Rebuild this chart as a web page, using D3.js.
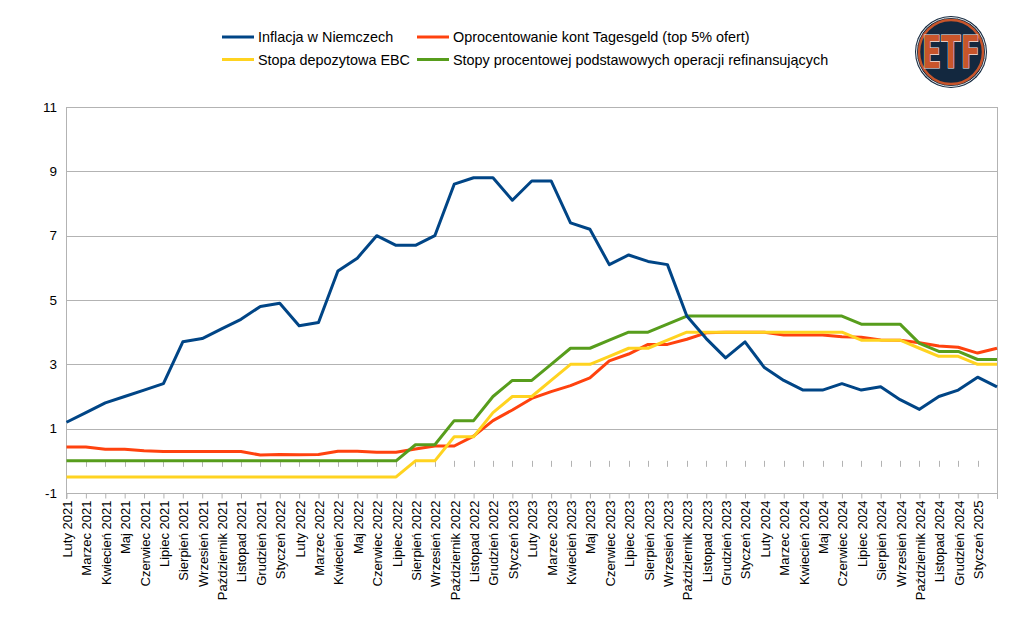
<!DOCTYPE html>
<html>
<head>
<meta charset="utf-8">
<script src="https://cdn.jsdelivr.net/npm/d3@7"></script>
<style>
  body { margin: 0; background: #fff; }
  svg { display: block; font-family: "Liberation Sans", Arial, sans-serif; }
</style>
</head>
<body>
<div id="chart"></div>
<script>
// categories (months), the last one has no label drawn
const months = ['Luty 2021','Marzec 2021','Kwiecień 2021','Maj 2021','Czerwiec 2021','Lipiec 2021','Sierpień 2021','Wrzesień 2021','Październik 2021','Listopad 2021','Grudzień 2021',
  'Styczeń 2022','Luty 2022','Marzec 2022','Kwiecień 2022','Maj 2022','Czerwiec 2022','Lipiec 2022','Sierpień 2022','Wrzesień 2022','Październik 2022','Listopad 2022','Grudzień 2022',
  'Styczeń 2023','Luty 2023','Marzec 2023','Kwiecień 2023','Maj 2023','Czerwiec 2023','Lipiec 2023','Sierpień 2023','Wrzesień 2023','Październik 2023','Listopad 2023','Grudzień 2023',
  'Styczeń 2024','Luty 2024','Marzec 2024','Kwiecień 2024','Maj 2024','Czerwiec 2024','Lipiec 2024','Sierpień 2024','Wrzesień 2024','Październik 2024','Listopad 2024','Grudzień 2024',
  'Styczeń 2025','Luty 2025']

const inflacja = [1.2,1.5,1.8,2.0,2.2,2.4,3.7,3.8,4.1,4.4,4.8,4.9,4.2,4.3,5.9,6.3,7.0,6.7,6.7,7.0,8.6,8.8,8.8,8.1,8.7,8.7,7.4,7.2,6.1,6.4,6.2,6.1,4.5,3.8,3.2,3.7,2.9,2.5,2.2,2.2,2.4,2.2,2.3,1.9,1.6,2.0,2.2,2.6,2.3]
const tagesgeld = [0.43,0.43,0.36,0.36,0.31,0.29,0.29,0.29,0.29,0.29,0.18,0.2,0.19,0.2,0.3,0.3,0.27,0.27,0.37,0.46,0.46,0.77,1.25,1.58,1.94,2.15,2.34,2.58,3.11,3.32,3.62,3.62,3.78,3.98,4.0,4.0,4.0,3.91,3.91,3.91,3.86,3.84,3.76,3.75,3.67,3.57,3.53,3.35,3.5]
const depozytowa = [-0.5,-0.5,-0.5,-0.5,-0.5,-0.5,-0.5,-0.5,-0.5,-0.5,-0.5,-0.5,-0.5,-0.5,-0.5,-0.5,-0.5,-0.5,0,0,0.75,0.75,1.5,2.0,2.0,2.5,3.0,3.0,3.25,3.5,3.5,3.75,4.0,4.0,4.0,4.0,4.0,4.0,4.0,4.0,4.0,3.75,3.75,3.75,3.5,3.25,3.25,3.0,3.0]
const refinansowa = [0,0,0,0,0,0,0,0,0,0,0,0,0,0,0,0,0,0,0.5,0.5,1.25,1.25,2.0,2.5,2.5,3.0,3.5,3.5,3.75,4.0,4.0,4.25,4.5,4.5,4.5,4.5,4.5,4.5,4.5,4.5,4.5,4.25,4.25,4.25,3.65,3.4,3.4,3.15,3.15]

const yTicks = [-1, 1, 3, 5, 7, 9, 11]

const series = [
  {name: 'Oprocentowanie kont Tagesgeld (top 5% ofert)', values: tagesgeld, color: '#ff420e'},
  {name: 'Stopa depozytowa EBC', values: depozytowa, color: '#ffd320'},
  {name: 'Stopy procentowej podstawowych operacji refinansujących', values: refinansowa, color: '#579d1c'},
  {name: 'Inflacja w Niemczech', values: inflacja, color: '#004586'}
]

const width = 1024, height = 642
const svg = d3.select("#chart").append("svg")
  .attr("width", width)
  .attr("height", height)

const x = d3.scalePoint().domain(months).range([66.5, 997])
const y = d3.scaleLinear().domain([-1, 11]).range([493, 107])

// grid lines
svg.append("g")
  .selectAll("line")
  .data(yTicks)
  .join("line")
    .attr("x1", 66.5).attr("x2", 997)
    .attr("y1", d => Math.round(y(d)) + 0.5).attr("y2", d => Math.round(y(d)) + 0.5)
    .attr("stroke", "#b3b3b3")

// left + right border
svg.append("line").attr("x1", 66.5).attr("x2", 66.5).attr("y1", 107).attr("y2", 499).attr("stroke", "#b3b3b3")
svg.append("line").attr("x1", 997.5).attr("x2", 997.5).attr("y1", 107).attr("y2", 499).attr("stroke", "#b3b3b3")

// y labels
svg.append("g")
  .selectAll("text")
  .data(yTicks)
  .join("text")
    .attr("x", 57)
    .attr("y", d => y(d))
    .attr("dy", "0.35em")
    .attr("text-anchor", "end")
    .attr("font-size", 13.5)
    .text(d => d)

// x axis at the bottom (ticks + rotated labels)
const xAxis = d3.axisBottom(x)
  .tickValues(months.slice(0, -1))
  .tickSize(5)
  .tickSizeOuter(0)
const gx = svg.append("g")
  .attr("transform", `translate(0,${Math.round(y(-1)) + 0.5})`)
  .call(xAxis)
gx.select(".domain").remove()
gx.selectAll(".tick line").attr("stroke", "#b3b3b3")
gx.selectAll(".tick text")
  .attr("font-size", 13)
  .attr("font-family", "Liberation Sans, Arial, sans-serif")
  .attr("fill", "#000")
  .attr("text-anchor", "end")
  .attr("transform", "translate(5,-2) rotate(-90)")
  .attr("x", -9)
  .attr("y", 0)
  .attr("dy", 0)

// small ticks on the zero line
svg.append("g")
  .selectAll("line")
  .data(months.slice(1, -1))
  .join("line")
    .attr("x1", d => Math.round(x(d)) + 0.5).attr("x2", d => Math.round(x(d)) + 0.5)
    .attr("y1", y(0)).attr("y2", y(0) + 6)
    .attr("stroke", "#b3b3b3")

// lines
const line = d3.line()
  .x((d, i) => x(months[i]))
  .y(d => y(d))

svg.append("g")
  .selectAll("path")
  .data(series)
  .join("path")
    .attr("d", d => line(d.values))
    .attr("fill", "none")
    .attr("stroke", d => d.color)
    .attr("stroke-width", 3)
    .attr("stroke-linejoin", "round")

// legend
const legendItems = [
  {s: series[3], x: 222, y: 37},
  {s: series[0], x: 417, y: 37},
  {s: series[1], x: 222, y: 59.5},
  {s: series[2], x: 417, y: 59.5}
]
const lg = svg.append("g").selectAll("g").data(legendItems).join("g")
  .attr("transform", d => `translate(${d.x},${d.y})`)
lg.append("line").attr("x1", 0).attr("x2", 32).attr("y1", 0).attr("y2", 0)
  .attr("stroke", d => d.s.color).attr("stroke-width", 3)
lg.append("text").attr("x", 36).attr("y", 0).attr("dy", "0.35em")
  .attr("font-size", 14.4)
  .attr("fill", "#000")
  .text(d => d.s.name)

// ETF logo
const logo = svg.append("g").attr("transform", "translate(951,52)")
logo.append("circle").attr("r", 36).attr("fill", "#13283f")
logo.append("circle").attr("r", 34.5).attr("fill", "none").attr("stroke", "#e9e9e9").attr("stroke-width", 1)
logo.append("circle").attr("r", 32).attr("fill", "none").attr("stroke", "#c8552b").attr("stroke-width", 2.5)
logo.append("text")
  .attr("x", 0).attr("y", 16)
  .attr("text-anchor", "middle")
  .attr("font-family", "DejaVu Sans Condensed, DejaVu Sans, sans-serif")
  .attr("font-weight", "bold")
  .attr("font-size", 44)
  .attr("textLength", 58)
  .attr("lengthAdjust", "spacingAndGlyphs")
  .attr("fill", "#c8552b")
  .attr("stroke", "#f2f2f2")
  .attr("stroke-width", 1.2)
  .attr("paint-order", "stroke")
  .text("ETF")
</script>
</body>
</html>
